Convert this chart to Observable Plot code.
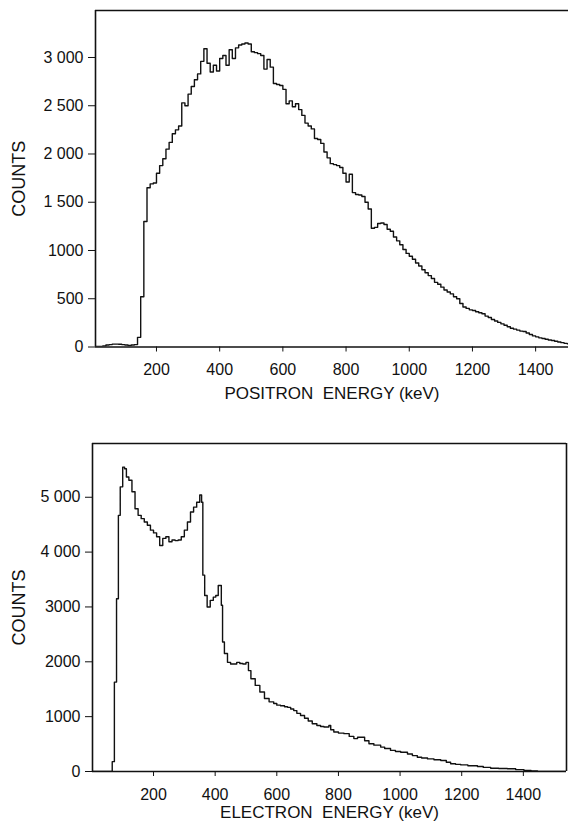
<!DOCTYPE html>
<html>
<head>
<meta charset="utf-8">
<script src="https://cdn.jsdelivr.net/npm/d3@7"></script>
<script src="https://cdn.jsdelivr.net/npm/@observablehq/plot@0.6"></script>
<style>
  html, body { margin: 0; padding: 0; background: #fff; }
  svg { display: block; }
  g[aria-label="x-axis label"] text { font-size: 17px; }
  g[aria-label="y-axis label"] text { font-size: 18px; }
</style>
</head>
<body>
<div id="chart"></div>
<script>
// ---------- Data ----------
const positronEnergy = [
  0,10,20,30,40,50,60,70,80,90,100,110,120,130,140,150,160,170,180,190,
  200,210,220,230,240,250,260,270,280,290,300,310,320,330,340,350,360,370,380,390,
  400,410,420,430,440,450,460,470,480,490,500,510,520,530,540,550,560,570,580,590,
  600,610,620,630,640,650,660,670,680,690,700,710,720,730,740,750,760,770,780,790,
  800,810,820,830,840,850,860,870,880,890,900,910,920,930,940,950,960,970,980,990,
  1000,1010,1020,1030,1040,1050,1060,1070,1080,1090,1100,1110,1120,1130,1140,1150,1160,1170,1180,1190,
  1200,1210,1220,1230,1240,1250,1260,1270,1280,1290,1300,1310,1320,1330,1340,1350,1360,1370,1380,1390,
  1400,1410,1420,1430,1440,1450,1460,1470,1480,1490,1500,1510
];
const positronCounts = [
  5,5,5,10,20,25,30,30,28,25,20,15,20,25,100,520,1300,1650,1690,1700,
  1800,1880,1950,2050,2120,2210,2250,2290,2530,2500,2620,2700,2770,2830,2960,3090,2940,2850,2920,2860,
  2990,3020,2920,3080,2990,3100,3130,3140,3150,3140,3060,3050,3040,3020,2880,2980,2900,2730,2720,2710,
  2670,2520,2550,2490,2520,2460,2400,2320,2290,2260,2160,2150,2110,2020,1960,1900,1890,1880,1860,1800,
  1710,1790,1600,1580,1575,1560,1500,1430,1230,1240,1280,1285,1270,1220,1200,1140,1100,1060,1010,970,
  940,910,870,840,800,770,740,710,670,650,620,590,570,550,520,500,450,415,400,385,
  378,365,355,345,320,305,285,270,255,240,225,210,195,185,175,165,160,145,130,115,
  105,95,88,80,72,67,60,52,45,38,33,30
];

const electronEnergy = [
  0,60,66,73,80,86,92,100,106,112,120,130,140,150,160,170,180,190,200,210,
  220,230,240,250,260,270,280,290,300,310,320,330,340,350,356,360,366,374,384,394,
  402,410,420,424,430,440,450,460,470,480,490,500,508,516,530,545,560,575,590,600,
  612,625,635,645,655,665,677,690,702,715,730,742,753,769,775,785,800,818,835,850,
  862,872,885,899,915,937,950,969,985,1002,1024,1040,1056,1070,1089,1110,1132,1150,1164,1180,
  1197,1220,1251,1270,1294,1320,1348,1375,1402,1425,1446,1550
];
const electronCounts = [
  0,0,180,1630,3150,4670,5190,5550,5520,5370,5310,5100,4790,4670,4610,4550,4490,4400,4350,4280,
  4120,4250,4280,4190,4220,4210,4220,4280,4400,4550,4730,4820,4910,5040,4910,3580,3210,3000,3120,3180,
  3210,3390,3030,2360,2150,1990,1960,1960,1990,1970,1960,1990,1840,1690,1570,1450,1330,1270,1240,1210,
  1200,1180,1170,1140,1110,1060,1020,970,920,870,840,820,810,840,760,720,700,690,640,600,
  625,625,560,505,480,445,420,385,365,350,320,290,260,245,230,215,200,170,140,130,
  120,105,90,75,60,55,50,35,20,10,0,0
];

const energyTicks = [200, 400, 600, 800, 1000, 1200, 1400];
const positronCountTicks = [0, 500, 1000, 1500, 2000, 2500, 3000];
const positronCountLabels = ["0", "500", "1000", "1 500", "2 000", "2 500", "3 000"];
const electronCountTicks = [0, 1000, 2000, 3000, 4000, 5000];
const electronCountLabels = ["0", "1000", "2000", "3000", "4 000", "5 000"];

const positronTitle = "POSITRON\u00a0\u00a0ENERGY (keV)";
const electronTitle = "ELECTRON\u00a0\u00a0ENERGY (keV)";
const countsTitle = "COUNTS";

// ---------- Drawing ----------
const font = "'Liberation Sans', Arial, Helvetica, sans-serif";
const ink = "#111";

function panel(o) {
  const rows = o.energy.map((e, i) => ({energy: e, counts: o.counts[i]}));
  const labelMap = new Map(o.yTicks.map((t, i) => [t, o.yLabels[i]]));
  const marks = [
    Plot.lineY(rows, {x: "energy", y: "counts", curve: "step-after", stroke: ink, strokeWidth: 1.4, clip: true}),
    Plot.ruleY([o.yDomain[0]], {stroke: ink, strokeWidth: 1.6}),
    Plot.ruleY([o.yDomain[1]], {stroke: ink, strokeWidth: 1.6}),
    Plot.ruleX([o.xDomain[0]], {stroke: ink, strokeWidth: 1.6})
  ];
  if (o.rightBorder) marks.push(Plot.ruleX([o.xDomain[1]], {stroke: ink, strokeWidth: 1.6}));
  return Plot.plot({
    width: 568,
    height: o.height,
    marginTop: o.marginTop,
    marginBottom: o.marginBottom,
    marginLeft: o.marginLeft,
    marginRight: o.marginRight,
    style: {fontFamily: font, fontSize: "16px", color: ink, background: "#fff", overflow: "visible"},
    x: {
      domain: o.xDomain,
      ticks: energyTicks,
      tickFormat: d => String(d),
      tickSize: 5,
      tickPadding: 12,
      label: o.xLabel,
      labelAnchor: "center",
      labelOffset: o.xLabelOffset,
      labelArrow: "none"
    },
    y: {
      domain: o.yDomain,
      ticks: o.yTicks,
      tickFormat: d => labelMap.get(d),
      tickSize: 7,
      tickPadding: 5,
      label: countsTitle,
      labelAnchor: "center",
      labelOffset: o.yLabelOffset,
      labelArrow: "none"
    },
    marks
  });
}

const topPanel = panel({
  energy: positronEnergy, counts: positronCounts,
  xDomain: [7, 1504], yDomain: [0, 3487],
  yTicks: positronCountTicks, yLabels: positronCountLabels,
  xLabel: positronTitle,
  height: 425, marginTop: 10, marginBottom: 78.5, marginLeft: 95, marginRight: 0,
  xLabelOffset: 52, yLabelOffset: 83, rightBorder: false
});

const bottomPanel = panel({
  energy: electronEnergy, counts: electronCounts,
  xDomain: [2, 1540], yDomain: [0, 5980],
  yTicks: electronCountTicks, yLabels: electronCountLabels,
  xLabel: electronTitle,
  height: 400, marginTop: 18, marginBottom: 54, marginLeft: 92, marginRight: 2,
  xLabelOffset: 46, yLabelOffset: 80, rightBorder: true
});

const chart = document.getElementById("chart");
chart.appendChild(topPanel);
chart.appendChild(bottomPanel);
</script>
</body>
</html>
